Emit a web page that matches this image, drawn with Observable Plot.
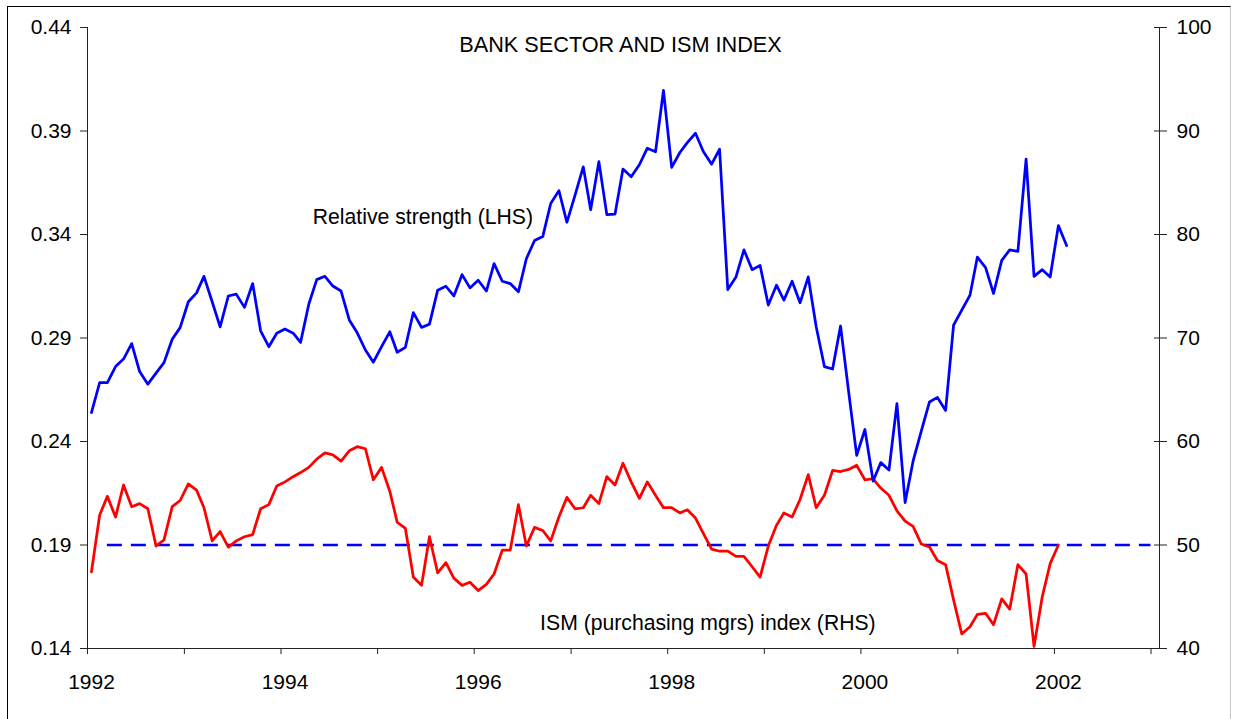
<!DOCTYPE html>
<html><head><meta charset="utf-8">
<script src="https://cdn.jsdelivr.net/npm/d3@7"></script>
<script src="https://cdn.jsdelivr.net/npm/@observablehq/plot@0.6"></script>
<style>
html,body{margin:0;padding:0;background:#fff;}
#chart{position:relative;width:1233px;height:719px;overflow:hidden;}
#chart svg{position:absolute;left:0;top:0;}
#frame{position:absolute;left:7px;top:6px;width:1222px;height:720px;border:1px solid #000;border-right-color:#c8c8c8;pointer-events:none;z-index:2;}
</style></head><body><div id="chart"><div id="frame"></div></div>
<script>
// ---- data (monthly, starting Jan 1992) ----
const startYear = 1992;
const title = "BANK SECTOR AND ISM INDEX";
const labelLHS = "Relative strength (LHS)";
const labelRHS = "ISM (purchasing mgrs) index (RHS)";
const lhsTicks = [0.14, 0.19, 0.24, 0.29, 0.34, 0.39, 0.44];
const rhsTicks = [40, 50, 60, 70, 80, 90, 100];
const yearTicks = [1992,1993,1994,1995,1996,1997,1998,1999,2000,2001,2002,2003];
const yearLabels = [1992,1994,1996,1998,2000,2002];
const ismReference = 50;

// Relative strength of bank sector (LHS)
const relStrength = [
0.254,0.2685,0.2685,0.2762,0.2798,0.2873,0.2738,0.2677,0.2730,0.2781,0.2894,0.2950,
0.3075,0.3118,0.3198,0.3075,0.2954,0.3103,0.3112,0.3048,0.3163,0.2935,0.2858,0.2923,
0.2943,0.2923,0.2879,0.3063,0.3182,0.3198,0.3151,0.3127,0.2987,0.2925,0.2842,0.2783,
0.2858,0.2930,0.2831,0.2855,0.3023,0.2951,0.2967,0.3131,0.3150,0.3103,0.3206,0.3142,
0.3179,0.3127,0.3259,0.3174,0.3163,0.3123,0.3283,0.3371,0.3390,0.3550,0.3612,0.3459,
0.3590,0.3727,0.3520,0.3752,0.3496,0.3499,0.3716,0.3679,0.3737,0.3817,0.3800,0.4096,
0.3724,0.3796,0.3844,0.3889,0.3800,0.3740,0.3812,0.3134,0.3195,0.3326,0.3230,0.3251,
0.3059,0.3155,0.3083,0.3174,0.3070,0.3195,0.2954,0.2762,0.2750,0.2958,0.2636,0.2333,
0.2458,0.2209,0.2298,0.2262,0.2583,0.2105,0.2305,0.2450,0.2591,0.2613,0.2550,0.2962,
0.3035,0.3107,0.3291,0.3240,0.3115,0.3275,0.3326,0.3318,0.3764,0.3198,0.3230,0.3195,
0.3443,0.3347];

// ISM purchasing managers index (RHS)
const ism = [
47.4,52.9,54.7,52.7,55.8,53.7,54.0,53.5,49.9,50.5,53.7,54.3,
55.9,55.3,53.6,50.4,51.3,49.8,50.4,50.8,51.0,53.5,53.9,55.7,
56.1,56.6,57.0,57.5,58.3,58.9,58.7,58.1,59.1,59.5,59.3,56.3,
57.5,55.2,52.2,51.6,46.9,46.1,50.8,47.3,48.3,46.8,46.1,46.4,
45.6,46.2,47.2,49.5,49.5,53.9,49.9,51.7,51.4,50.4,52.7,54.6,
53.5,53.6,54.8,54.0,56.6,55.8,57.9,56.1,54.5,56.1,54.8,53.6,
53.6,53.1,53.4,52.6,51.1,49.6,49.4,49.4,48.9,48.9,47.9,46.9,
49.9,51.9,53.1,52.7,54.4,56.8,53.6,54.8,57.2,57.1,57.3,57.7,
56.3,56.4,55.5,54.8,53.3,52.3,51.8,50.1,49.8,48.5,48.1,44.7,
41.4,42.1,43.3,43.4,42.3,44.8,43.8,48.1,47.2,40.2,45.0,48.2,
50.0];

// ---- helpers ----
const monthDate = i => new Date(Date.UTC(startYear, i, 16));
const toL = v => 0.14 + (v - 40) * 0.005;       // RHS -> LHS units
const fromL = d => Math.round(40 + (d - 0.14) / 0.005);
const xStart = new Date(Date.UTC(1992, 0, 1));
const xEnd = new Date(Date.UTC(2003, 1, 2));
const yr = y => new Date(Date.UTC(y, 0, 1));

const blueData = relStrength.map((v, i) => ({date: monthDate(i), v}));
const redData = ism.map((v, i) => ({date: monthDate(i), v}));
const dashData = [{x1: new Date(Date.UTC(startYear, 2, 16)), x2: yr(2003), v: ismReference}];

const font = "'Liberation Sans', Arial, Helvetica, sans-serif";
const axisColor = "#222";

const chart = Plot.plot({
  width: 1233, height: 719,
  marginLeft: 87, marginRight: 74, marginTop: 27, marginBottom: 71,
  style: {fontFamily: font, fontSize: "21px", color: "#000", background: "transparent", overflow: "visible"},
  x: {type: "utc", domain: [xStart, xEnd]},
  y: {domain: [0.14, 0.44]},
  marks: [
    Plot.ruleY([0.14], {stroke: axisColor, strokeWidth: 1}),
    Plot.ruleX([xStart], {stroke: axisColor, strokeWidth: 1}),
    Plot.ruleX([xEnd], {stroke: axisColor, strokeWidth: 1}),
    Plot.axisY({anchor: "left", ticks: lhsTicks, tickSize: 7, tickPadding: 9, tickFormat: d3.format(".2f"), label: null, stroke: axisColor}),
    Plot.axisY({anchor: "right", ticks: rhsTicks.map(toL), tickSize: 7, tickPadding: 10, tickFormat: fromL, label: null, stroke: axisColor}),
    Plot.axisY({anchor: "right", ticks: rhsTicks.map(toL), tickSize: -6, tickPadding: 0, tickFormat: () => "", label: null, stroke: axisColor}),
    Plot.axisX({ticks: yearTicks.map(yr), tickSize: 6, tickFormat: () => "", label: null, stroke: axisColor}),
    Plot.axisX({ticks: yearLabels.map(yr), tickSize: 0, tickPadding: 26, tickFormat: d => String(d.getUTCFullYear()), label: null, dx: 4}),
    Plot.ruleY(dashData, {y: d => toL(d.v), x1: "x1", x2: "x2", stroke: "#0000ff", strokeWidth: 2.5, strokeDasharray: "15,9"}),
    Plot.lineY(redData, {x: "date", y: d => toL(d.v), stroke: "#ff0000", strokeWidth: 2.75}),
    Plot.lineY(blueData, {x: "date", y: "v", stroke: "#0000ff", strokeWidth: 2.75}),
    Plot.text([title], {frameAnchor: "top", lineAnchor: "middle", dy: 18, dx: -3, fontSize: 21.7, fill: "#000"}),
    Plot.text([{x: new Date(Date.UTC(1994, 4, 1)), y: 0.3483, t: labelLHS}], {x: "x", y: "y", text: "t", textAnchor: "start", fontSize: 21.2, fill: "#000"}),
    Plot.text([{x: new Date(Date.UTC(1996, 8, 6)), y: 0.1523, t: labelRHS}], {x: "x", y: "y", text: "t", textAnchor: "start", fontSize: 21.2, fill: "#000"})
  ]
});
document.getElementById("chart").appendChild(chart);
</script></body></html>
